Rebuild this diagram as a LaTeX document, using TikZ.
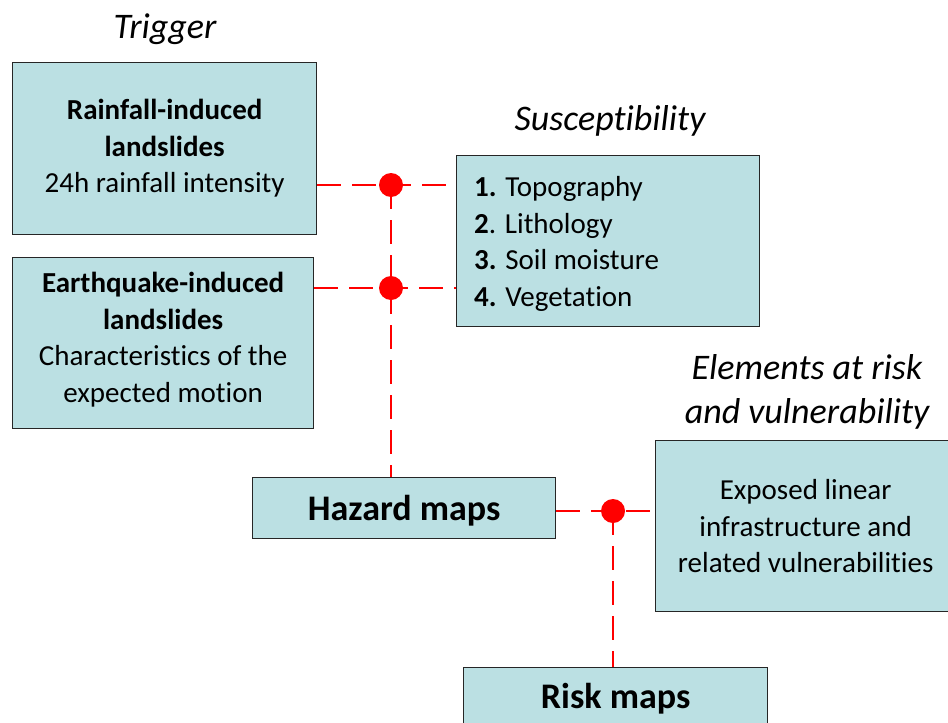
\documentclass[tikz,border=0pt]{standalone}
\usepackage{fontspec}
\setmainfont[Ligatures=NoCommon]{Carlito}
\begin{document}
\begin{tikzpicture}[x=1pt,y=-1pt,
  box/.style={draw=black!85,line width=1.3pt,fill=boxfill,inner sep=0pt,align=center,anchor=north west},
  lnk/.style={draw=linkred,line width=2.8pt,dash pattern=on 24pt off 11pt},
  dot/.style={circle,fill=linkred,inner sep=0pt,minimum size=24pt},
  title/.style={font=\itshape\fontsize{36}{44}\selectfont},
  txt/.style={font=\fontsize{29}{36.5}\selectfont,inner sep=0pt,align=center},
  big/.style={font=\bfseries\fontsize{36}{40}\selectfont,inner sep=0pt}]
\definecolor{boxfill}{HTML}{BBE0E3}
\definecolor{linkred}{HTML}{FF0000}
\useasboundingbox (0,0) rectangle (948,723);
\clip (0,0) rectangle (948,723);
% boxes
\node[box,txt,minimum width=304pt,minimum height=172pt] (trig) at (12,62)
  {\textbf{Rainfall-induced}\\\textbf{landslides}\\24h rainfall intensity};
\node[box,minimum width=301pt,minimum height=171pt] (eq) at (12,257) {};
\node[txt] (eqt) at ([yshift=3.5pt]eq.center)
  {\textbf{Earthquake-induced}\\\textbf{landslides}\\Characteristics of the\\expected motion};
\node[box,minimum width=303pt,minimum height=171pt] (susc) at (456,155) {};
\node[txt,align=left,anchor=west] (susct) at ([xshift=18pt,yshift=-3pt]susc.west)
  {\textbf{1.} Topography\\\textbf{2}. Lithology\\\textbf{3.} Soil moisture\\\textbf{4.} Vegetation};
\node[box,minimum width=303pt,minimum height=61pt] (haz) at (252,477) {};
\node[big] (hazt) at ([yshift=-3pt]haz.center) {Hazard maps};
\node[box,txt,minimum width=300pt,minimum height=171pt] (elem) at (655,440)
  {Exposed linear\\infrastructure and\\related vulnerabilities};
\node[box,minimum width=304pt,minimum height=62pt] (risk) at (463,667) {};
\node[big] (riskt) at (risk.center) {Risk maps};
% titles
\node[title] (ttrig) at (165,29) {Trigger};
\node[title] (tsusc) at (610,121) {Susceptibility};
\node[title,align=center] (telem) at (807,391.5) {Elements at risk\\and vulnerability};
% junctions
\coordinate (d1) at (391,185);
\coordinate (d2) at (391,288);
\coordinate (d3) at (613,511);
\draw[lnk] (trig.east |- d1) -- (d1) -- (susc.west |- d1);
\draw[lnk] (eq.east |- d2) -- (d2) -- (susc.west |- d2);
\draw[lnk] (d1) -- (d2) -- (haz.north -| d1);
\draw[lnk] (haz.east |- d3) -- (d3) -- (elem.west |- d3);
\draw[lnk] (d3) -- (risk.north -| d3);
\node[dot] (n1) at (d1) {};
\node[dot] (n2) at (d2) {};
\node[dot] (n3) at (d3) {};
\end{tikzpicture}
\end{document}
